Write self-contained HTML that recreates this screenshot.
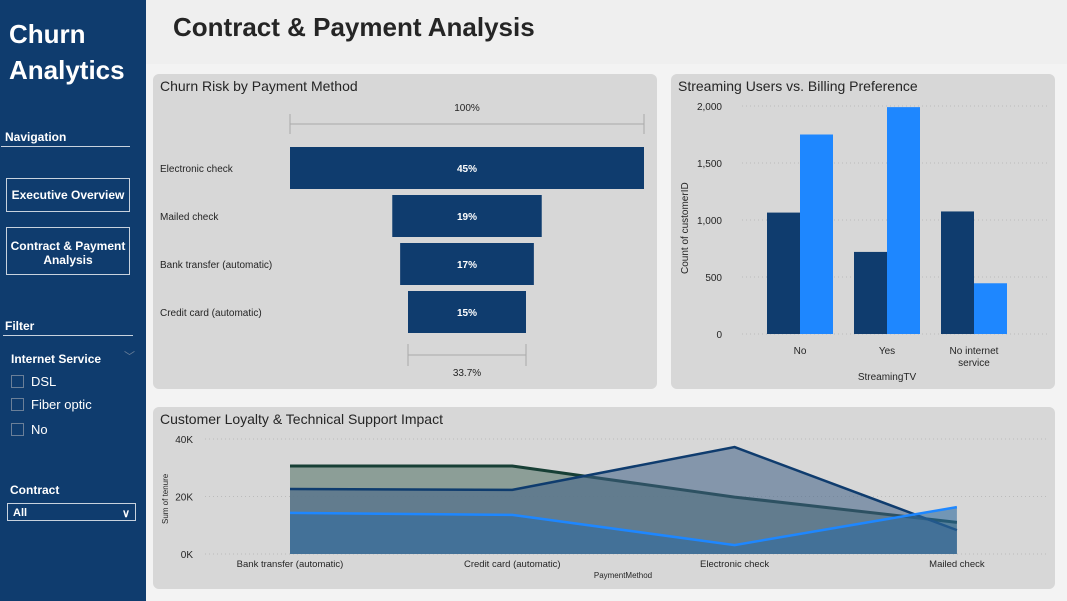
<!DOCTYPE html>
<html><head><meta charset="utf-8"><style>
body{margin:0;width:1067px;height:601px;overflow:hidden;background:#f3f3f3;font-family:"Liberation Sans",sans-serif;position:relative}
.side{position:absolute;left:0;top:0;width:146px;height:601px;background:#0f3c6e;color:#fff}
.abs{position:absolute}
.panel{position:absolute;background:#d7d7d7;border-radius:6px}
.btn{position:absolute;left:6px;width:124px;border:1px solid #c8d2de;color:#fff;font-weight:bold;font-size:12px;text-align:center;box-sizing:border-box}
.cb{position:absolute;left:11px;width:11px;height:11px;border:1px solid #6a7f98}
.cbl{position:absolute;left:31px;font-size:13px}
</style></head><body>
<div class="side">
<div class="abs" style="left:9px;top:16px;font-size:26px;font-weight:bold;line-height:36px">Churn<br>Analytics</div>
<div class="abs" style="left:5px;top:130px;font-size:12px;font-weight:bold">Navigation</div>
<div class="abs" style="left:1px;top:146px;width:129px;height:1px;background:#c8d2de"></div>
<div class="btn" style="top:178px;height:34px;line-height:32px">Executive Overview</div>
<div class="btn" style="top:227px;height:48px;padding-top:11px;line-height:14px">Contract &amp; Payment Analysis</div>
<div class="abs" style="left:5px;top:319px;font-size:12px;font-weight:bold">Filter</div>
<div class="abs" style="left:3px;top:335px;width:130px;height:1px;background:#c8d2de"></div>
<div class="abs" style="left:11px;top:352px;font-size:12px;font-weight:bold">Internet Service</div>
<div class="abs" style="left:124px;top:348px;font-size:11px;color:#6a7f98">﹀</div>
<div class="cb" style="top:375px"></div><div class="cbl" style="top:374px">DSL</div>
<div class="cb" style="top:398px"></div><div class="cbl" style="top:397px">Fiber optic</div>
<div class="cb" style="top:423px"></div><div class="cbl" style="top:422px">No</div>
<div class="abs" style="left:10px;top:483px;font-size:12px;font-weight:bold">Contract</div>
<div class="abs" style="left:7px;top:503px;width:129px;height:18px;border:1px solid #c8d2de;box-sizing:border-box;font-size:11px;font-weight:bold;padding:3px 5px">All<span style="float:right">∨</span></div>
</div>
<div class="abs" style="left:146px;top:0;width:921px;height:64px;background:#efefef"></div>
<div class="abs" style="left:173px;top:12px;font-size:26px;font-weight:bold;color:#252525">Contract &amp; Payment Analysis</div>
<div class="panel" style="left:153px;top:74px;width:504px;height:315px"></div>
<div class="panel" style="left:671px;top:74px;width:384px;height:315px"></div>
<div class="panel" style="left:153px;top:407px;width:902px;height:182px"></div>
<svg id="s" class="abs" style="left:0;top:0" width="1067" height="601" font-family="Liberation Sans, sans-serif"></svg>
<script>
const funnelCats=["Electronic check","Mailed check","Bank transfer (automatic)","Credit card (automatic)"];
const funnelVals=[45,19,17,15];
const funnelFooter="33.7%";
const barCats=["No","Yes","No internet service"];
const barDark=[1065,720,1075];
const barLight=[1750,1990,445];
const barTicks=[0,500,1000,1500,2000];
const areaCats=["Bank transfer (automatic)","Credit card (automatic)","Electronic check","Mailed check"];
const areaGreen=[30.6,30.6,19.8,11];
const areaNavy=[22.6,22.3,37.2,8.3];
const areaBlue=[14.3,13.6,3.1,16.3];
const areaTicks=[0,20,40];
const s=document.getElementById('s');
function el(t,a,txt){const e=document.createElementNS('http://www.w3.org/2000/svg',t);for(const k in a)e.setAttribute(k,a[k]);if(txt!==undefined)e.textContent=txt;s.appendChild(e);return e;}
function tx(x,y,t,o){return el('text',Object.assign({x:x,y:y,'font-size':11,fill:'#252525'},o||{}),t);}
let t;
t=tx(160,91,"Churn Risk by Payment Method",{'font-size':14});
t=tx(678,91,"Streaming Users vs. Billing Preference",{'font-size':14});
t=tx(160,424,"Customer Loyalty & Technical Support Impact",{'font-size':14});
const fc=467,fmax=354,fx=v=>v/funnelVals[0]*fmax;
tx(fc,111,"100%",{'text-anchor':'middle','font-size':10});
el('path',{d:`M290 114V134M290 124H644M644 114V134`,stroke:'#aaa',fill:'none'});
funnelVals.forEach((v,i)=>{const w=fx(v),y=147+i*48;
 const r=el('rect',{x:fc-w/2,y:y,width:w,height:42,fill:'#0f3c6e'});
 
 tx(fc,y+25,v+"%",{'text-anchor':'middle',fill:'#fff','font-weight':'bold','font-size':10});
 tx(160,y+25,funnelCats[i],{'font-size':10});});
const lw=fx(funnelVals[3]);
el('path',{d:`M${fc-lw/2} 344V366M${fc-lw/2} 355H${fc+lw/2}M${fc+lw/2} 344V366`,stroke:'#aaa',fill:'none'});
tx(fc,376,funnelFooter,{'text-anchor':'middle','font-size':10});
const by=v=>334-v/2000*228, cx=i=>800+i*87;
barTicks.forEach(v=>{el('line',{x1:742,x2:1048,y1:by(v),y2:by(v),stroke:'#bbb','stroke-dasharray':'1 3'});tx(722,by(v)+4,v.toLocaleString('en-US'),{'text-anchor':'end','font-size':10});});
barCats.forEach((c,i)=>{
 let r=el('rect',{x:cx(i)-33,y:by(barDark[i]),width:33,height:334-by(barDark[i]),fill:'#0f3c6e'});
 r=el('rect',{x:cx(i),y:by(barLight[i]),width:33,height:334-by(barLight[i]),fill:'#1e87ff'});
 const parts=c==="No internet service"?["No internet","service"]:[c];
 parts.forEach((p,j)=>tx(cx(i),354+j*12,p,{'text-anchor':'middle','font-size':10}));});
tx(887,380,"StreamingTV",{'text-anchor':'middle','font-size':10});
tx(0,0,"Count of customerID",{'font-size':10,transform:'translate(688,274) rotate(-90)'});
const ax=i=>290+i*222.3, ay=v=>554-v*2.875;
areaTicks.forEach(v=>{el('line',{x1:205,x2:1048,y1:ay(v),y2:ay(v),stroke:'#bbb','stroke-dasharray':'1 3'});tx(193,ay(v)+4,v+"K",{'text-anchor':'end','font-size':10});});
function area(d,fill,op,stroke,name,sw){
 const pts=d.map((v,i)=>ax(i)+','+ay(v)).join(' ');
 el('polygon',{points:`${ax(0)},${ay(0)} ${pts} ${ax(d.length-1)},${ay(0)}`,fill:fill,'fill-opacity':op});
 const l=el('polyline',{points:pts,fill:'none',stroke:stroke,'stroke-width':sw||2.5});
 }
area(areaGreen,'#7f948c',0.85,'#173f35','green-series',3);
area(areaNavy,'#3f6186',0.55,'#0f3c6e','navy-series');
area(areaBlue,'#2f6b9e',0.6,'#1e87ff','blue-series');
areaCats.forEach((c,i)=>tx(ax(i),567,c,{'text-anchor':'middle','font-size':9.5}));
tx(623,578,"PaymentMethod",{'text-anchor':'middle','font-size':8});
tx(0,0,"Sum of tenure",{'font-size':8,transform:'translate(168,524) rotate(-90)'});
</script>
</body></html>
